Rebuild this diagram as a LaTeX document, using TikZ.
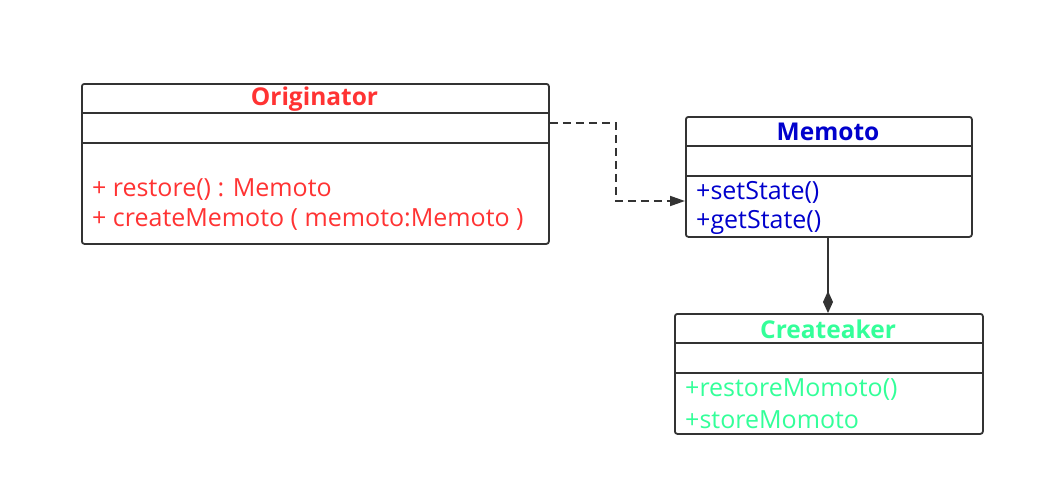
\documentclass[tikz,border=0pt]{standalone}
\usepackage{fontspec}
\setmainfont{Open Sans}
\usetikzlibrary{arrows.meta}
\definecolor{edge}{HTML}{333333}
\definecolor{cred}{HTML}{FF3333}
\definecolor{cblue}{HTML}{0000CC}
\definecolor{cgreen}{HTML}{33FF99}
\begin{document}
\begin{tikzpicture}[x=1pt,y=-1pt,
  classbox/.style={draw=edge,line width=1.8pt,rounded corners=2.5pt},
  divider/.style={draw=edge,line width=1.8pt},
  title/.style={font=\fontsize{24.5}{28}\selectfont\bfseries,inner sep=0pt},
  member/.style={font=\fontsize{25}{30}\selectfont,inner sep=0pt,anchor=west},
  conn/.style={draw=edge,line width=1.8pt}]
\useasboundingbox (0,0) rectangle (1044,495);
% Originator
\node[classbox,minimum width=467pt,minimum height=160pt,anchor=north west,inner sep=0pt] (orig) at (81,83) {};
\draw[divider] (81,113) -- (548,113);
\draw[divider] (81,143) -- (548,143);
\node[title,text=cred] (origt) at (314.5,99) {Originator};
\node[member,text=cred] (origm1) at (92,189.5) {+ restore() : Memoto};
\node[member,text=cred] (origm2) at (92,219.5) {+ createMemoto ( memoto:Memoto )};
% Memoto
\node[classbox,minimum width=286pt,minimum height=120pt,anchor=north west,inner sep=0pt] (memo) at (685,116) {};
\draw[divider] (685,146) -- (971,146);
\draw[divider] (685,176) -- (971,176);
\node[title,text=cblue] (memot) at (828,132) {Memoto};
\node[member,text=cblue] (memom1) at (696,192.5) {+setState()};
\node[member,text=cblue] (memom2) at (696,222.5) {+getState()};
% Createtaker
\node[classbox,minimum width=308pt,minimum height=120pt,anchor=north west,inner sep=0pt] (care) at (674,313) {};
\draw[divider] (674,343) -- (982,343);
\draw[divider] (674,373) -- (982,373);
\node[title,text=cgreen] (caret) at (828,329) {Createaker};
\node[member,text=cgreen] (carem1) at (685,389.5) {+restoreMomoto()};
\node[member,text=cgreen] (carem2) at (685,419.5) {+storeMomoto};
% connectors
\coordinate (b1) at (616,123);
\coordinate (b2) at (616,201);
\draw[conn,dashed,dash pattern=on 8pt off 5pt,-{Stealth[length=15pt,width=10pt,inset=0pt]}] (orig.east |- b1) -- (b1) -- (b2) -- (memo.west |- b2);
\draw[conn,-{Diamond[length=22pt,width=10pt]}] (memo.south -| 828,0) -- (care.north -| 828,0);
\end{tikzpicture}
\end{document}
